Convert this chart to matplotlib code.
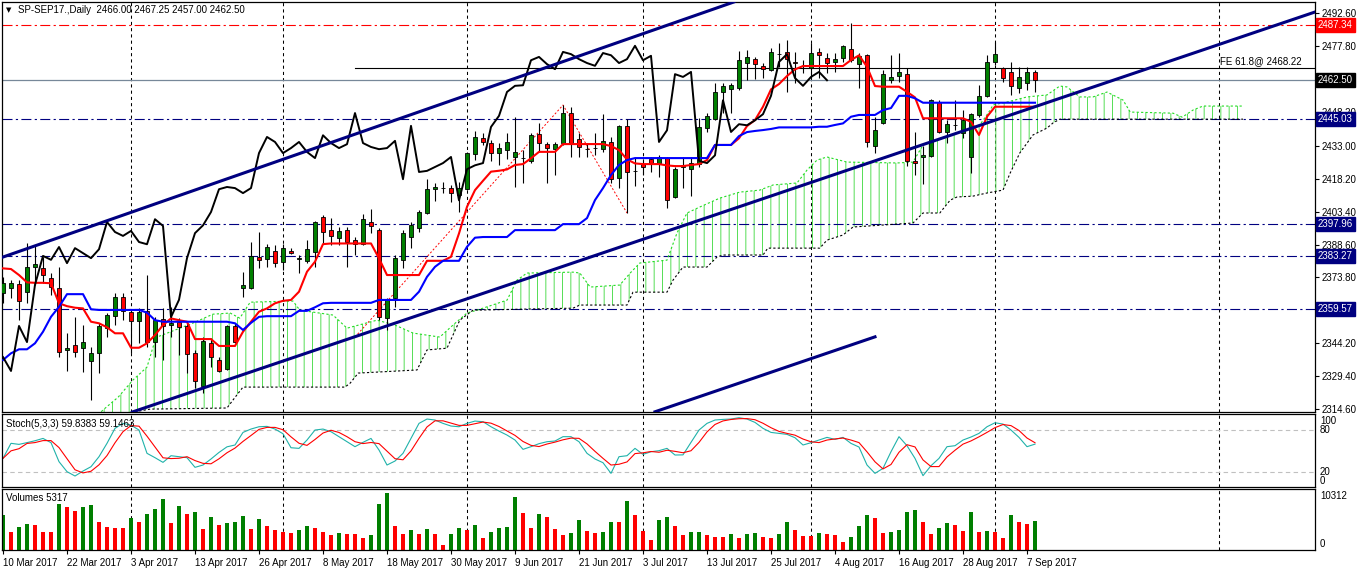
import numpy as np
import pandas as pd
import matplotlib
matplotlib.use("Agg")
import matplotlib.pyplot as plt
import matplotlib.transforms as mtransforms

plt.rcParams['font.family'] = ['Liberation Sans', 'DejaVu Sans']
plt.rcParams['font.size'] = 7
plt.rcParams['hatch.linewidth'] = 0.7

# ---------------- data ----------------
dates = pd.bdate_range('2017-03-10', '2017-09-08')
dates = dates[dates != pd.Timestamp('2017-04-14')]   # good friday, no bar

opens = [2366.75, 2369.0, 2370.75, 2367.25, 2378.5, 2378.0, 2373.5, 2369.0, 2341.25, 2343.5,
         2342.0, 2336.25, 2339.75, 2351.0, 2356.5, 2365.0, 2358.25, 2354.25, 2358.75, 2344.75,
         2355.0, 2352.5, 2353.75, 2352.0, 2339.75, 2325.0, 2344.25, 2336.75, 2332.5, 2352.0,
         2369.0, 2369.0, 2383.0, 2382.0, 2385.75, 2380.75, 2385.75, 2382.25, 2381.25, 2385.25,
         2401.0, 2395.25, 2391.5, 2395.25, 2390.75, 2388.75, 2398.75, 2395.25, 2355.5, 2364.5,
         2381.75, 2392.0, 2396.0, 2402.75, 2413.5, 2414.0, 2414.0, 2410.75, 2413.5, 2429.25,
         2436.5, 2434.25, 2429.75, 2431.0, 2428.0, 2427.5, 2426.25, 2438.25, 2433.75, 2431.5,
         2434.25, 2447.75, 2436.0, 2431.5, 2432.0, 2431.5, 2434.75, 2418.5, 2442.0, 2421.75,
         2424.75, 2427.0, 2425.25, 2427.5, 2410.0, 2423.5, 2422.5, 2424.75, 2441.0, 2445.0,
         2457.25, 2458.5, 2459.0, 2470.25, 2472.0, 2469.0, 2467.0, 2474.25, 2475.25, 2470.75,
         2469.0, 2468.0, 2475.25, 2472.5, 2470.75, 2472.5, 2476.5, 2469.75, 2473.75, 2433.0,
         2443.25, 2462.5, 2464.5, 2465.25, 2426.25, 2428.0, 2428.5, 2452.75, 2439.25, 2442.25,
         2438.75, 2428.0, 2446.75, 2455.5, 2470.75, 2468.0, 2466.25, 2459.0, 2461.25, 2466.0]
highs = [2374.0, 2372.75, 2372.75, 2389.25, 2388.5, 2383.0, 2375.75, 2378.5, 2348.75, 2356.0,
         2352.5, 2342.5, 2353.25, 2357.75, 2366.75, 2366.75, 2359.25, 2360.0, 2375.0, 2356.0,
         2360.0, 2360.5, 2355.5, 2353.75, 2341.25, 2347.0, 2346.5, 2338.0, 2352.5, 2353.25,
         2376.25, 2389.75, 2394.25, 2388.75, 2388.5, 2388.75, 2387.0, 2384.0, 2390.75, 2399.0,
         2402.0, 2400.5, 2396.5, 2396.5, 2392.0, 2402.25, 2404.5, 2396.0, 2364.5, 2383.75,
         2395.25, 2398.75, 2404.0, 2418.0, 2416.25, 2416.75, 2415.25, 2416.75, 2430.25, 2439.75,
         2438.75, 2435.5, 2434.25, 2438.75, 2446.0, 2431.0, 2438.75, 2443.25, 2434.75, 2434.75,
         2451.25, 2450.5, 2438.75, 2434.25, 2438.75, 2447.25, 2437.0, 2442.25, 2445.0, 2427.5,
         2426.5, 2428.0, 2428.75, 2428.0, 2423.5, 2428.0, 2428.0, 2445.5, 2447.75, 2461.25,
         2461.25, 2461.25, 2475.75, 2476.0, 2473.0, 2470.25, 2477.0, 2479.25, 2480.5, 2475.25,
         2471.5, 2479.25, 2477.0, 2474.75, 2474.75, 2478.25, 2488.25, 2474.75, 2474.25, 2446.0,
         2467.0, 2473.75, 2474.75, 2468.0, 2439.25, 2433.0, 2454.0, 2453.5, 2444.5, 2453.5,
         2449.0, 2447.75, 2460.25, 2473.75, 2479.75, 2468.5, 2470.75, 2468.5, 2468.5, 2467.25]
lows = [2362.25, 2364.5, 2354.75, 2362.25, 2370.5, 2371.25, 2366.0, 2338.0, 2331.75, 2338.0,
        2331.25, 2318.75, 2330.75, 2347.0, 2352.5, 2354.75, 2339.75, 2344.25, 2342.5, 2338.0,
        2336.75, 2347.0, 2339.0, 2330.75, 2324.0, 2321.75, 2333.5, 2331.25, 2332.25, 2344.25,
        2365.0, 2368.5, 2378.0, 2378.5, 2378.5, 2377.25, 2384.25, 2375.75, 2380.25, 2378.5,
        2389.25, 2388.5, 2388.5, 2378.5, 2384.0, 2388.5, 2393.75, 2354.75, 2350.25, 2360.5,
        2378.0, 2387.0, 2394.25, 2402.25, 2408.25, 2411.75, 2407.75, 2403.25, 2413.0, 2426.5,
        2433.25, 2426.25, 2424.25, 2427.0, 2414.5, 2416.25, 2425.25, 2430.25, 2416.25, 2419.75,
        2433.25, 2428.0, 2428.0, 2428.0, 2428.75, 2430.25, 2416.25, 2414.0, 2402.75, 2415.0,
        2419.75, 2421.25, 2419.0, 2405.0, 2409.5, 2414.0, 2410.5, 2423.5, 2439.25, 2444.5,
        2447.75, 2447.75, 2458.0, 2462.5, 2463.0, 2463.5, 2466.75, 2468.5, 2457.25, 2461.25,
        2465.75, 2463.5, 2463.5, 2465.75, 2466.25, 2470.75, 2470.75, 2459.0, 2432.5, 2429.75,
        2443.0, 2461.25, 2461.75, 2424.0, 2419.75, 2415.75, 2428.0, 2438.75, 2434.25, 2440.0,
        2436.5, 2420.75, 2446.0, 2455.0, 2469.25, 2461.75, 2455.75, 2456.75, 2458.0, 2457.0]
closes = [2371.5, 2371.25, 2363.25, 2378.5, 2379.75, 2375.0, 2369.5, 2340.25, 2342.0, 2340.25,
          2344.75, 2339.75, 2352.0, 2357.0, 2365.0, 2358.75, 2354.25, 2358.25, 2344.75, 2354.75,
          2352.0, 2353.25, 2351.5, 2339.25, 2327.25, 2345.25, 2338.0, 2331.75, 2352.0, 2344.75,
          2370.5, 2383.5, 2381.75, 2387.5, 2380.25, 2387.0, 2384.75, 2382.5, 2386.5, 2398.75,
          2394.25, 2392.5, 2394.75, 2389.75, 2388.75, 2400.0, 2397.0, 2356.0, 2363.75, 2382.5,
          2393.75, 2397.25, 2403.25, 2413.5, 2414.5, 2414.0, 2411.75, 2414.0, 2429.75, 2437.0,
          2434.75, 2429.75, 2432.0, 2434.75, 2430.25, 2427.5, 2437.75, 2434.25, 2432.0, 2433.75,
          2447.75, 2434.25, 2432.5, 2431.5, 2432.0, 2435.25, 2418.0, 2442.0, 2421.25, 2421.75,
          2423.5, 2425.25, 2428.0, 2408.5, 2422.5, 2424.25, 2425.25, 2441.5, 2446.5, 2457.25,
          2460.0, 2460.25, 2471.5, 2473.0, 2469.75, 2467.5, 2475.25, 2474.25, 2472.0, 2470.25,
          2469.0, 2474.75, 2473.75, 2470.25, 2472.0, 2478.0, 2471.5, 2473.5, 2434.75, 2440.0,
          2465.25, 2464.0, 2466.25, 2426.25, 2425.25, 2428.75, 2453.5, 2439.25, 2442.75, 2442.25,
          2444.5, 2447.25, 2455.5, 2470.75, 2474.25, 2463.5, 2460.0, 2464.0, 2466.25, 2462.5]

# ichimoku lines
tenkan = ([2377.9, 2377.6, 2374.9, 2371.6, 2371.4, 2371.4, 2371.2, 2362.2, 2360.9, 2360.2,
           2359.9, 2353.9, 2353.2, 2351.4, 2348.7, 2348.7, 2342.2, 2342.2, 2344.2, 2347.9,
           2352.4, 2355.4, 2354.6, 2353.9, 2346.1, 2346.1, 2346.1, 2343.0, 2343.0, 2343.0,
           2349.4, 2353.9, 2358.4, 2359.9, 2362.2, 2363.3, 2363.7, 2367.4, 2376.4, 2380.9,
           2388.8] + [2389.1] * 6 + [2382.4] + [2374.9] * 5 + [2381.3] * 3 +
          [2383.1, 2393.6, 2405.6, 2413.1, 2417.3, 2421.4, 2421.8, 2422.4, 2424.4, 2424.8, 2427.4] +
          [2430.3] * 3 + [2433.8] * 6 + [2432.9, 2431.1, 2426.9, 2425.1] + [2424.8] * 3 + [2424.2] +
          [2423.9] * 2 + [2424.4, 2424.8, 2426.6] + [2433.4] * 3 +
          [2436.4, 2441.9, 2444.6, 2450.6, 2458.4, 2460.8, 2464.4, 2467.4] + [2468.9] * 6 +
          [2471.6, 2473.7, 2468.6, 2459.9] + [2459.6] * 3 + [2457.3, 2454.8] + [2445.4] * 6 +
          [2443.8, 2437.9, 2446.1] + [2450.6] * 6)
kijun = ([2336.7, 2339.7, 2341.5, 2341.5, 2344.2, 2349.4, 2356.1, 2360.6] + [2366.3] * 3 + [2359.5] +
         [2359.2] * 6 + [2358.0, 2354.6] + [2353.9] * 9 + [2353.2, 2350.2, 2353.4, 2356.1] +
         [2356.4] * 4 + [2358.8] * 2 + [2360.4, 2362.2] + [2362.4] * 6 + [2363.7] * 5 +
         [2367.4, 2374.1, 2378.6] + [2381.3] * 3 + [2387.6, 2391.7] + [2392.0] * 4 + [2395.1] * 6 +
         [2397.8] * 3 + [2400.5, 2408.6, 2414.0, 2419.9, 2424.4, 2426.6] + [2427.5] * 10 +
         [2433.4] * 3 + [2437.4, 2439.2, 2439.7, 2440.1, 2440.6] + [2441.3] * 5 + [2441.6] * 2 +
         [2442.4, 2443.1, 2446.1] + [2446.9] * 3 + [2449.1, 2450.0] + [2455.5] * 2 + [2454.4] +
         [2452.4] * 15)

# cloud edges (bar position, price)
span_a_bar = [11.5, 12.5, 14.4, 16.25, 18, 18.75, 19.25, 23.75, 26.25, 28.4,
              29.6, 30.9, 36.25, 37.1, 41.25, 43, 46.75, 49, 51.25, 54.6,
              56.25, 58, 59.25, 63, 64.25, 65.5, 71.25, 72.1, 73.4, 77.1,
              78.4, 79.6, 83, 84.25, 85.5, 87.1, 89.6, 92.1, 94.6, 96.25,
              99.25, 100.5, 101.75, 103, 105.5, 111.75, 113.75, 115, 116.75, 119.25,
              122.1, 123.4, 123.75, 125.5, 128, 130.5, 132.1, 133, 134.6, 136.25,
              138, 140, 140.9, 146.25, 147.4, 148.75, 150, 155]
span_a = [2310.6, 2314.2, 2320.0, 2327.7, 2333.5, 2342.5, 2347.0, 2353.3, 2357.3, 2357.8,
          2355.5, 2362.7, 2363.2, 2359.1, 2356.9, 2351.0, 2354.6, 2352.4, 2348.8, 2347.0,
          2352.4, 2357.8, 2359.1, 2363.6, 2372.6, 2375.8, 2376.2, 2375.8, 2369.5, 2370.4,
          2375.8, 2380.3, 2381.6, 2393.8, 2402.8, 2405.5, 2409.5, 2412.2, 2413.1, 2415.4,
          2416.3, 2422.1, 2426.6, 2428.0, 2425.7, 2425.3, 2425.7, 2433.4, 2435.6, 2438.8,
          2442.4, 2449.1, 2451.4, 2452.7, 2455.0, 2455.9, 2459.9, 2459.5, 2455.0, 2455.0,
          2457.2, 2453.6, 2448.2, 2447.7, 2445.9, 2449.1, 2450.9, 2450.9]
span_b_bar = [12.1, 18.4, 28, 28.75, 30, 42.75, 43.4, 44.4, 51.75, 53,
              55.5, 57.1, 58.75, 71.25, 72.1, 78, 78.75, 83, 83.75, 85,
              88, 89.25, 90, 95, 95.6, 102.1, 103, 105, 106.25, 113.75,
              115, 117.1, 118.4, 119.25, 121.25, 123, 125, 125.9, 127.1, 128.75,
              130.5, 131.25, 132.1, 155]
span_b = [2310.6, 2314.6, 2315.1, 2318.7, 2324.5, 2324.5, 2326.3, 2330.8, 2332.2, 2341.2,
          2342.0, 2354.6, 2359.1, 2360.0, 2361.4, 2361.4, 2367.2, 2367.2, 2372.6, 2378.5,
          2378.5, 2383.0, 2383.9, 2383.9, 2387.0, 2387.0, 2390.6, 2392.9, 2396.5, 2398.3,
          2402.8, 2402.8, 2408.6, 2410.0, 2410.4, 2411.8, 2413.1, 2420.8, 2429.8, 2437.9,
          2441.0, 2443.3, 2445.0, 2445.0]

stoch_k = [39.5, 61, 59.5, 62, 64.7, 68, 62, 34.8, 20.5, 14.3,
           21.4, 27.6, 41.9, 61, 82.4, 89.5, 87, 80, 46.7, 40.5,
           33.8, 43.3, 41.9, 40.5, 26.7, 30, 38.6, 48, 56, 58.6,
           76.6, 81.4, 84.7, 85.2, 81.4, 74.7, 54.7, 53.8, 65.7, 80,
           81.4, 77.6, 70.5, 63.3, 56.2, 62.4, 68, 51.4, 30, 35.7,
           46.7, 68, 89.5, 95.7, 94.3, 89.5, 85.7, 84.7, 89.5, 92.8,
           91.9, 84.7, 78.5, 72.8, 65.7, 52.4, 56.2, 60.5, 63.3, 64.3,
           70.5, 70.5, 63.3, 46.7, 38.6, 33.3, 18.1, 41.9, 43.3, 53.8,
           45.2, 49, 50.5, 53.8, 44.3, 44.5, 62.4, 80, 89.5, 94.3,
           95.2, 95.7, 97.6, 95.7, 90.9, 82.4, 76.6, 75.2, 73.8, 69,
           58.6, 61.9, 65.7, 69.5, 66.6, 69.5, 60.9, 55.7, 30, 18.1,
           25.2, 49, 70.5, 57.6, 39.5, 14.8, 29, 39.5, 56.2, 57.6,
           65.7, 70, 75.2, 84.7, 90.4, 88.5, 80, 69.5, 56.2, 59.84]

volumes = [6261, 3315, 4235, 4788, 4604, 3315, 3300, 8286, 7734, 6997,
           7734, 8102, 5156, 4235, 4051, 4040, 5708, 5156, 6445, 7366,
           9207, 4972, 7918, 6445, 6813, 3867, 5892, 4604, 4972, 5010,
           6077, 3867, 5524, 4419, 3683, 3315, 3130, 3683, 4419, 4051,
           3315, 2762, 3130, 2946, 2930, 2210, 2762, 8286, 10312, 4419,
           2946, 3683, 2946, 3867, 2946, 921, 2946, 4051, 3683, 4604,
           2210, 3315, 4051, 4235, 9575, 6629, 4051, 6445, 5892, 3867,
           2762, 3130, 5340, 3499, 3130, 3315, 5156, 5140, 8839, 6261,
           3499, 1841, 5340, 5892, 4419, 2762, 3315, 3340, 2762, 2394,
           2380, 2946, 2210, 2946, 2990, 2394, 2210, 2946, 5156, 3683,
           2578, 2560, 3130, 2946, 2762, 1473, 2394, 4419, 6261, 5708,
           3130, 3315, 3683, 6813, 7181, 5156, 2946, 4051, 4972, 4604,
           3499, 6813, 3315, 3499, 3315, 2210, 6261, 5156, 4788, 5317]

price_ticks = [2492.60, 2477.80, 2448.20, 2433.00, 2418.20, 2403.40, 2388.60,
               2373.80, 2344.20, 2329.40, 2314.60]
levels = [2445.03, 2397.96, 2383.27, 2359.57]
resist = 2487.34
last_price = 2462.50
fe_level = 2468.22
fe_points_bar = [44, 70, 78]
fe_points = [2347.0, 2451.35, 2402.8]
chan_upper = [(0, 2383.0), (90, 2496.0)]
chan_lower = [(16.25, 2313.4), (164, 2493.2)]
chan_low2 = [(81.5, 2313.4), (109, 2347.1)]

# ---------------- figure ----------------
W, H = 1358, 571
fig = plt.figure(figsize=(W / 100, H / 100), dpi=100)
fig.patch.set_facecolor('white')


def rect(top, bottom):
    return [2 / W, 1 - bottom / H, 1313 / W, (bottom - top) / H]


ax = fig.add_axes(rect(2, 412))
ax_st = fig.add_axes(rect(414, 487))
ax_vol = fig.add_axes(rect(489, 550))

xs = np.arange(len(dates))
o, h, l, c = map(np.array, (opens, highs, lows, closes))
GREEN, RED, NAVY = '#007f00', '#ff0000', '#000080'
xlim = (-0.125, 164)

# month grid lines
month_start = [i for i in range(1, len(dates)) if dates[i].month != dates[i - 1].month]
for a in (ax, ax_st, ax_vol):
    for b in month_start + [152]:
        a.axvline(b, color='black', lw=0.75, dashes=(3, 3), zorder=0.5)
    a.set_xlim(*xlim)
    for s in a.spines.values():
        s.set_linewidth(0.9)

# cloud
poly_x = list(span_a_bar) + list(span_b_bar[::-1])
poly_y = list(span_a) + list(span_b[::-1])
ax.fill(poly_x, poly_y, facecolor='none', edgecolor='#55dd55', hatch='||', linewidth=0, zorder=1)
ax.plot(span_a_bar, span_a, color='#22dd22', lw=0.8, ls=(0, (2, 2)), zorder=1.5)
ax.plot(span_b_bar, span_b, color='black', lw=0.8, ls=(0, (2, 2)), zorder=1.5)

# horizontal objects
for v in levels:
    ax.axhline(v, color=NAVY, lw=0.8, dashes=(9, 3, 2, 3), zorder=1.2)
ax.axhline(resist, color=RED, lw=0.8, dashes=(9, 3, 2, 3), zorder=1.2)
ax.axhline(last_price, color='#778899', lw=0.9, zorder=1.2)
ax.plot([fe_points_bar[0], xlim[1]], [fe_level, fe_level], color='black', lw=0.8, zorder=1.2)
ax.plot(fe_points_bar, fe_points, color=RED, lw=0.7, ls=(0, (2, 2)), zorder=1.3)

# candles
up = c >= o
ax.vlines(xs, l, h, color='black', lw=0.8, zorder=3)
ax.bar(xs, np.abs(c - o), bottom=np.minimum(o, c), width=0.62,
       color=np.where(up, GREEN, RED), edgecolor='black', linewidth=0.6, zorder=4)

# ichimoku
ax.plot(xs, tenkan, color=RED, lw=1.5, zorder=5)
ax.plot(xs, kijun, color='#0000ff', lw=1.5, zorder=5)
ax.plot(xs[:len(xs) - 26], c[26:], color='black', lw=1.4, zorder=5)

# channel
ax.axline(chan_upper[0], chan_upper[1], color=NAVY, lw=2.2, zorder=6)
ax.axline(chan_lower[0], chan_lower[1], color=NAVY, lw=2.2, zorder=6)
ax.plot(*zip(*chan_low2), color=NAVY, lw=2.2, zorder=6)

ax.set_ylim(2313.3, 2497.7)
ax.yaxis.tick_right()
ax.set_yticks(price_ticks)
ax.set_yticklabels([f"{v:.2f}" for v in price_ticks])
ax.tick_params(axis='y', length=3, pad=2, labelsize=7, width=0.8)
ax.tick_params(axis='x', bottom=False, labelbottom=False)

trans = mtransforms.blended_transform_factory(ax.transAxes, ax.transData)


def price_box(v, fc):
    ax.text(1.0 + 3 / 1313, v, f"{v:.2f}", transform=trans, ha='left', va='center',
            color='white', fontsize=7, clip_on=False, zorder=10,
            bbox=dict(boxstyle='square,pad=0.2', fc=fc, ec=fc))


price_box(resist, RED)
price_box(last_price, 'black')
for v in levels:
    price_box(v, NAVY)

ax.annotate("FE 61.8@ 2468.22", xy=(1, fe_level), xycoords=trans, xytext=(-13, 1.5),
            textcoords='offset pixels', ha='right', va='bottom', fontsize=7)

fig.text(6 / W, 1 - 10 / H, '\u25bc', fontsize=5, va='center', family=['DejaVu Sans'])
fig.text(18 / W, 1 - 10 / H, "SP-SEP17.,Daily  2466.00 2467.25 2457.00 2462.50",
         va='center', fontsize=7)

# stochastic
stoch_d = pd.Series(stoch_k).rolling(3, min_periods=1).mean()
ax_st.axhline(80, color='#c0c0c0', lw=0.8, dashes=(4, 3))
ax_st.axhline(20, color='#c0c0c0', lw=0.8, dashes=(4, 3))
ax_st.plot(xs, stoch_k, color='#20b2aa', lw=0.8)
ax_st.plot(xs, stoch_d, color=RED, lw=0.8)
ax_st.set_ylim(-1.4, 102.9)
ax_st.set_xticks([])
ax_st.set_yticks([])
st_trans = mtransforms.blended_transform_factory(ax_st.transAxes, ax_st.transData)
for val, va in ((100, 'top'), (80, 'center'), (20, 'center'), (0, 'bottom')):
    ax_st.text(1.0 + 5 / 1313, val, str(val), transform=st_trans, ha='left', va=va,
               fontsize=7, clip_on=False)
fig.text(6 / W, 1 - 424 / H, "Stoch(5,3,3) 59.8383 59.1463", va='center', fontsize=7)

# volumes
vol = np.array(volumes)
vol_up = np.r_[True, vol[1:] > vol[:-1]]
ax_vol.bar(xs, vol, width=0.62, color=np.where(vol_up, GREEN, RED), linewidth=0)
ax_vol.set_ylim(0, 11036)
ax_vol.set_yticks([])
ax_vol.set_xticks(xs[::8])
ax_vol.set_xticklabels([f"{d.day} {d.strftime('%b %Y')}" for d in dates[::8]], ha='left')
ax_vol.tick_params(axis='x', length=3, pad=3, labelsize=7, width=0.8)
v_trans = mtransforms.blended_transform_factory(ax_vol.transAxes, ax_vol.transAxes)
ax_vol.text(1.0 + 5 / 1313, 0.97, "10312", transform=v_trans, ha='left', va='top',
            fontsize=7, clip_on=False)
ax_vol.text(1.0 + 5 / 1313, 0.02, "0", transform=v_trans, ha='left', va='bottom',
            fontsize=7, clip_on=False)
fig.text(6 / W, 1 - 498 / H, "Volumes 5317", va='center', fontsize=7)

fig.savefig("out.png", dpi=100)
